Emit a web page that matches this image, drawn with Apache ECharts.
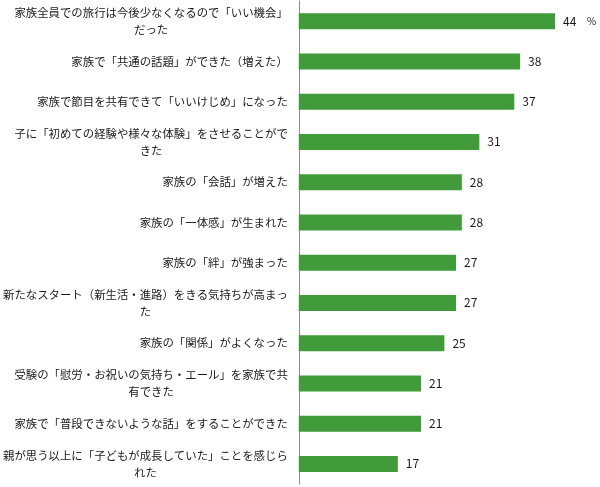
<!DOCTYPE html>
<html lang="ja">
<head>
    <meta charset="UTF-8">
    <title>家族旅行</title>
    <script src="https://cdn.jsdelivr.net/npm/echarts@6/dist/echarts.min.js"></script>
    <style>
        html,body{margin:0;height:100%;background:#fff;}
        #main{width:600px;height:487px;}
    </style>
</head>
<body>
<div id="main"></div>
<script>
    // 項目名（上から順）
    var categories = [
        '家族全員での旅行は今後少なくなるので「いい機会」\nだった',
        '家族で「共通の話題」ができた（増えた）',
        '家族で節目を共有できて「いいけじめ」になった',
        '子に「初めての経験や様々な体験」をさせることがで\nきた',
        '家族の「会話」が増えた',
        '家族の「一体感」が生まれた',
        '家族の「絆」が強まった',
        '新たなスタート（新生活・進路）をきる気持ちが高まっ\nた',
        '家族の「関係」がよくなった',
        '受験の「慰労・お祝いの気持ち・エール」を家族で共\n有できた',
        '家族で「普段できないような話」をすることができた',
        '親が思う以上に「子どもが成長していた」ことを感じら\nれた'
    ];
    // 割合（%）
    var values = [44, 38, 37, 31, 28, 28, 27, 27, 25, 21, 21, 17];
    var unit = '%';

    var font = '"Noto Sans CJK JP", "Noto Sans", sans-serif';
    var myChart = echarts.init(document.getElementById('main'));

    var option = {
        animation: false,
        grid: {left: 298, right: 10, top: 1, bottom: 3},
        xAxis: {
            type: 'value', min: 0, max: 50,
            show: false
        },
        yAxis: {
            type: 'category',
            data: categories,
            inverse: true,
            axisTick: {show: false},
            axisLine: {lineStyle: {color: '#8c8c8c', width: 1}},
            axisLabel: {
                margin: 11,
                fontSize: 11.4,
                lineHeight: 17,
                color: '#1a1a1a',
                fontFamily: font,
                formatter: function (v) {
                    var p = v.split('\n');
                    if (p.length > 1) {
                        return p[0] + '\n{c|' + p[1] + '}';
                    }
                    return v;
                },
                rich: {
                    c: {align: 'center', fontSize: 11.4, lineHeight: 17, color: '#1a1a1a', fontFamily: font}
                }
            }
        },
        series: [{
            type: 'bar',
            data: values,
            barWidth: 16,
            itemStyle: {color: '#419b3b'},
            label: {
                show: true,
                position: 'right',
                distance: 8,
                fontSize: 12,
                color: '#1a1a1a',
                fontFamily: font,
                formatter: function (p) {
                    return p.dataIndex === 0 ? p.value + '    {u|' + unit + '}' : p.value;
                },
                rich: {
                    u: {fontSize: 10, color: '#1a1a1a', fontFamily: font}
                }
            }
        }]
    };
    myChart.setOption(option);
</script>
</body>
</html>
